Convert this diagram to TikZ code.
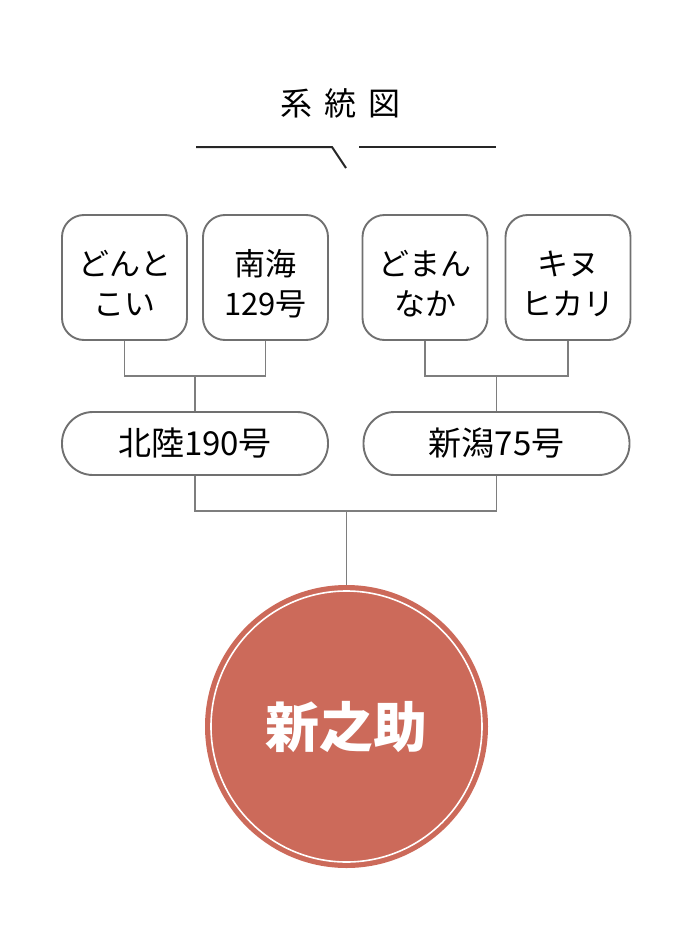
\documentclass[tikz,border=0pt]{standalone}
\usepackage{fontspec}
\setmainfont{Noto Sans CJK JP}
\usepackage{tikz}
\usetikzlibrary{positioning}
\definecolor{rice}{HTML}{CC6A5A}
\definecolor{rim}{HTML}{707070}

\begin{document}
\begin{tikzpicture}[x=1pt,y=-1pt]
\tikzstyle{grand}=[draw=rim,line width=1.9pt,rounded corners=22pt,minimum width=125pt,minimum height=125pt,inner sep=0pt]
\tikzstyle{grandtext}=[align=center,font=\fontsize{31}{40}\selectfont,inner sep=0pt]
\tikzstyle{parent}=[draw=rim,line width=1.9pt,rounded corners=31pt,minimum width=266pt,minimum height=63pt,font=\fontsize{33}{38}\selectfont,inner sep=0pt]
\tikzstyle{link}=[draw=rim!90,line width=1.8pt]
    \useasboundingbox (0,0) rectangle (700,926);
    \node (title) at (340,103) {\fontsize{32}{36}\selectfont 系\hspace{12pt}統\hspace{12pt}図};
    \coordinate (bl) at (196,147);
    \coordinate (bk) at (332,147);
    \coordinate (bt) at (346,168);
    \coordinate (br1) at (359,147);
    \coordinate (br2) at (496,147);
    \draw[line width=2pt,color=black!85] (bl) -- (bk) -- (bt);
    \draw[line width=2pt,color=black!85] (br1) -- (br2);
    \node[grand] (donto) at (124.5,277.5) {};
    \node[grand] (nankai) at (265.5,277.5) {};
    \node[grand] (doman) at (425,277.5) {};
    \node[grand] (kinu) at (568,277.5) {};
    \node[grandtext] (dontotext) at ([yshift=-6pt]donto.center) {どんと\\こい};
    \node[grandtext] (nankaitext) at ([yshift=-6pt]nankai.center) {南海\\129号};
    \node[grandtext] (domantext) at ([yshift=-6pt]doman.center) {どまん\\なか};
    \node[grandtext] (kinutext) at ([yshift=-6pt]kinu.center) {キヌ\\ヒカリ};
    \node[parent] (hokuriku) at (195,443.5) {北陸190号};
    \node[parent] (niigata) at (496.5,443.5) {新潟75号};
    \node[circle,fill=rice,minimum size=283pt,inner sep=0pt,text=white,font=\fontsize{54}{60}\selectfont\bfseries] (shin) at (346.5,726.5) {新之助};
    \draw[white,line width=1.6pt] (shin.center) circle (135.5);
    \coordinate (j1) at (195,376);
    \coordinate (j2) at (496.5,376);
    \coordinate (j3) at (346.5,511);
    \draw[link] (donto.south) |- (j1) -| (nankai.south);
    \draw[link] (j1) -- (hokuriku.north);
    \draw[link] (doman.south) |- (j2) -| (kinu.south);
    \draw[link] (j2) -- (niigata.north);
    \draw[link] (hokuriku.south) |- (j3) -| (niigata.south);
    \draw[link] (j3) -- (shin.north);
  \end{tikzpicture}
\end{document}
